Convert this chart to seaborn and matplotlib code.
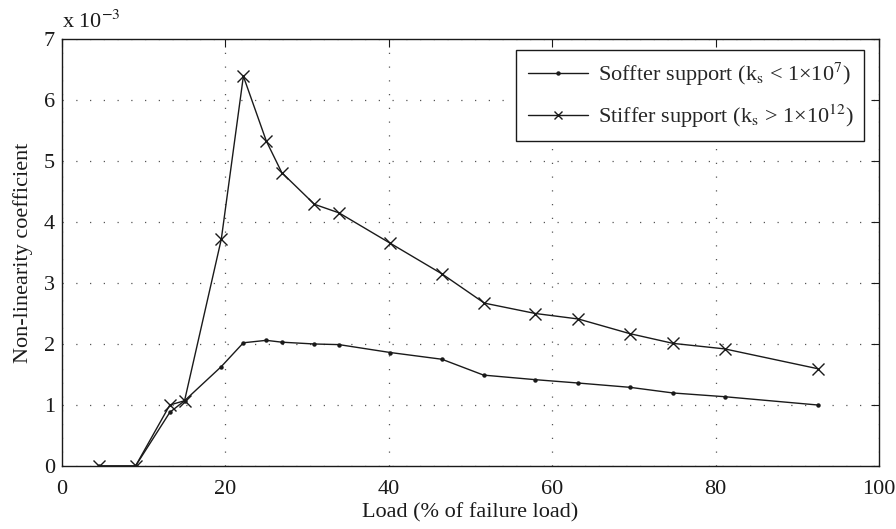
import matplotlib
matplotlib.use("Agg")
import matplotlib.pyplot as plt
import seaborn as sns
import pandas as pd

# Data (y values in units of 1e-3)
load_stiff = [4.5, 9.0, 13.2, 15.0, 19.5, 22.2, 25.0, 26.9, 30.9, 33.9, 40.2, 46.5, 51.7, 57.95, 63.2, 69.5, 74.8, 81.1, 92.5]
nl_stiff = [0.0, 0.0, 1.0, 1.07, 3.72, 6.39, 5.33, 4.81, 4.29, 4.15, 3.65, 3.15, 2.67, 2.50, 2.41, 2.17, 2.01, 1.92, 1.595]

load_soft = [4.5, 9.0, 13.2, 15.0, 19.5, 22.2, 25.0, 26.9, 30.9, 33.9, 40.2, 46.5, 51.6, 57.95, 63.2, 69.5, 74.8, 81.1, 92.5]
nl_soft = [0.0, 0.0, 0.88, 1.07, 1.63, 2.02, 2.06, 2.03, 2.0, 1.99, 1.86, 1.75, 1.49, 1.415, 1.36, 1.29, 1.197, 1.136, 1.0]

label_soft = r"Soffter support (k$_{\rm s}$ < 1×10$^{7}$)"
label_stiff = r"Stiffer support (k$_{\rm s}$ > 1×10$^{12}$)"
x_ticks = [0, 20, 40, 60, 80, 100]
y_ticks = [0, 1, 2, 3, 4, 5, 6, 7]

sns.set_style("white")
plt.rcParams["font.family"] = ["Liberation Serif", "DejaVu Serif"]
plt.rcParams["mathtext.fontset"] = "stix"

FS = 16
fig = plt.figure(figsize=(8.96, 5.29), dpi=100)
ax = fig.add_axes([62/896, 1 - 466/529, (879-62)/896, (466-39)/529])

df_soft = pd.DataFrame({"load": load_soft, "nl": nl_soft})
df_stiff = pd.DataFrame({"load": load_stiff, "nl": nl_stiff})

sns.lineplot(data=df_soft, x="load", y="nl", ax=ax, color="#1a1a1a", linewidth=1.0,
             marker="o", markersize=3.2, markeredgewidth=0, label=label_soft, sort=False)
sns.lineplot(data=df_stiff, x="load", y="nl", ax=ax, color="#1a1a1a", linewidth=1.0,
             marker="x", markersize=8, markeredgewidth=1.0, markeredgecolor="#1a1a1a",
             label=label_stiff, sort=False)

ax.set_xlim(0, 100)
ax.set_ylim(0, 7)
ax.set_xticks(x_ticks)
ax.set_yticks(y_ticks)
ax.set_xticklabels([str(v) for v in x_ticks])
ax.set_yticklabels([str(v) for v in y_ticks])
ax.tick_params(direction="in", length=6, width=0.8, top=True, right=True,
               labelsize=FS, colors="#1a1a1a", pad=5)
ax.tick_params(axis="x", pad=10)
for s in ax.spines.values():
    s.set_visible(True)
    s.set_color("#1a1a1a")
    s.set_linewidth(1.0)

ax.grid(True, color="#555555", linestyle=(0, (1, 10)), linewidth=0.9)

ax.set_xlabel("Load (% of failure load)", fontsize=FS, color="#1a1a1a", labelpad=3)
ax.set_ylabel("Non-linearity coefficient", fontsize=FS, color="#1a1a1a", labelpad=8)

ax.text(0.0, 1.015, r"x 10$^{-3}$", transform=ax.transAxes, fontsize=FS,
        ha="left", va="bottom", color="#1a1a1a")

leg = ax.legend(loc="upper right", bbox_to_anchor=(0.982, 0.975), fontsize=FS,
                frameon=True, fancybox=False, framealpha=1, edgecolor="#1a1a1a",
                handlelength=2.7, borderpad=0.5, labelspacing=0.65, handletextpad=0.45,
                borderaxespad=0)
leg.get_frame().set_linewidth(1.0)
for h in leg.legend_handles:
    if h.get_marker() == "x":
        h.set_markersize(6)

fig.savefig("out.png", dpi=100)
